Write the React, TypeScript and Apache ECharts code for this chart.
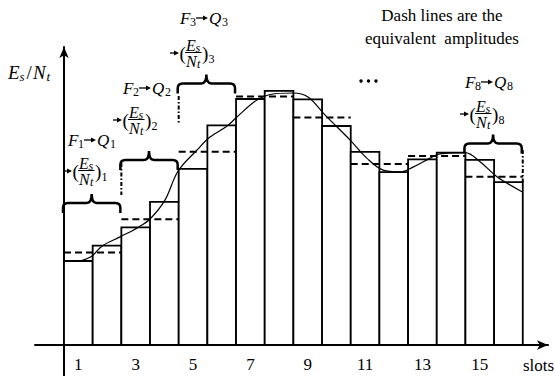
import React, { useEffect, useRef } from "react";
import * as echarts from "echarts";

// ---- data ----
const slots = [1, 2, 3, 4, 5, 6, 7, 8, 9, 10, 11, 12, 13, 14, 15, 16];
const slotAmplitude = [2.80, 3.31, 3.92, 4.77, 5.87, 7.32, 8.20, 8.47, 8.19, 7.30, 6.44, 5.76, 6.19, 6.41, 6.17, 5.43];
// equivalent amplitude of each pair of slots (dash lines)
const pairEquivalent = [3.08, 4.19, 6.44, 8.28, 7.58, 6.03, 6.30, 5.61];
// continuous channel curve (x in slot units from left edge of slot 1)
const curveX = [0.56, 0.98, 1.33, 1.99, 2.58, 3.0, 3.52, 3.98, 4.64, 5.09, 5.69, 6.03, 6.73, 7.19, 7.99, 8.51, 9.10, 9.98, 10.56, 11.13, 11.72, 12.17, 12.77, 13.11, 13.99, 14.51, 15.10, 15.97];
const curveY = [2.80, 2.97, 3.30, 3.62, 3.92, 4.20, 4.83, 5.80, 6.50, 6.93, 7.30, 7.60, 8.17, 8.35, 8.40, 8.27, 7.67, 6.83, 6.23, 5.83, 5.77, 5.93, 6.23, 6.37, 6.41, 6.11, 5.61, 5.11];
const xTickLabels = ["1", "3", "5", "7", "9", "11", "13", "15"];
// braces: start edge, end edge, level
const braceStart = [0, 2, 4, 14];
const braceEnd = [2, 4, 6, 16];
const braceLevel = [4.73, 6.17, 8.72, 6.72];
// dash-dot connectors: edge, top, bottom
const connectorEdge = [2, 4, 16];
const connectorTop = [6.07, 8.3, 6.5];
const connectorBottom = [5.0, 7.4, 5.4];

const SERIF = "Liberation Serif";

function txt(x: number, y: number, s: string, size: number, italic = false, align = "left") {
  return {
    type: "text",
    x,
    y,
    silent: true,
    style: {
      text: s,
      fontFamily: SERIF,
      fontSize: size,
      fontStyle: italic ? "italic" : "normal",
      fill: "#000",
      align,
      verticalAlign: "middle",
      textAlign: align,
      textVerticalAlign: "middle",
    },
  };
}

function arrow(x: number, y: number, len: number) {
  return [
    { type: "line", silent: true, shape: { x1: x, y1: y, x2: x + len - 4, y2: y }, style: { stroke: "#000", lineWidth: 1.3 } },
    {
      type: "polygon",
      silent: true,
      shape: { points: [[x + len - 5, y - 2.6], [x + len, y], [x + len - 5, y + 2.6]] },
      style: { fill: "#000" },
    },
  ];
}

function fqLabel(x: number, cy: number, n: string) {
  return [
    txt(x, cy, "F", 17, true),
    txt(x + 10, cy + 4, n, 12),
    ...arrow(x + 16, cy, 12),
    txt(x + 29, cy, "Q", 17, true),
    txt(x + 42, cy + 4, n, 12),
  ];
}

function fracLabel(x: number, cy: number, n: string) {
  return [
    ...arrow(x, cy, 9),
    txt(x + 9.5, cy, "(", 19),
    txt(x + 16, cy - 8, "E", 16, true),
    txt(x + 25.5, cy - 5, "s", 12, true),
    { type: "line", silent: true, shape: { x1: x + 15, y1: cy - 0.5, x2: x + 31.5, y2: cy - 0.5 }, style: { stroke: "#000", lineWidth: 1 } },
    txt(x + 16, cy + 8.5, "N", 16, true),
    txt(x + 27, cy + 11, "t", 12, true),
    txt(x + 32, cy, ")", 19),
    txt(x + 38.5, cy + 6, n, 12),
  ];
}

export default function App() {
  const ref = useRef<HTMLDivElement>(null);

  useEffect(() => {
    if (!ref.current) return;
    const chart = echarts.init(ref.current, undefined, { renderer: "svg" });

    const barData = slots.map((s, i) => [s, slotAmplitude[i]]);
    const pairData = pairEquivalent.map((v, k) => [2 * k, 2 * k + 2, v]);
    const curveData = curveX.map((x, i) => [x, curveY[i]]);
    const braceData = braceStart.map((s, i) => [s, braceEnd[i], braceLevel[i]]);
    const connData = connectorEdge.map((e, i) => [e, connectorTop[i], connectorBottom[i]]);
    const tickValues = xTickLabels.map((l) => Number(l) - 0.5);

    const graphics: any[] = [
      // y-axis title
      txt(8, 72, "E", 19, true),
      txt(19.5, 76, "s", 13, true),
      txt(26.5, 72, "/", 19),
      txt(33, 72, "N", 19, true),
      txt(46.5, 76, "t", 13, true),
      // legend note
      txt(442, 15, "Dash lines are the", 17, false, "center"),
      txt(442, 38, "equivalent  amplitudes", 17, false, "center"),
      // annotations
      ...fqLabel(68, 140, "1"),
      ...fracLabel(63, 171, "1"),
      ...fqLabel(123, 88, "2"),
      ...fracLabel(113, 120, "2"),
      ...fqLabel(180, 18, "3"),
      ...fracLabel(170, 53, "3"),
      ...fqLabel(465, 82, "8"),
      ...fracLabel(460, 114, "8"),
      // ellipsis dots
      { type: "circle", silent: true, shape: { cx: 361, cy: 81, r: 1.7 }, style: { fill: "#000" } },
      { type: "circle", silent: true, shape: { cx: 368.5, cy: 81, r: 1.7 }, style: { fill: "#000" } },
      { type: "circle", silent: true, shape: { cx: 376, cy: 81, r: 1.7 }, style: { fill: "#000" } },
    ];

    chart.setOption({
      animation: false,
      backgroundColor: "#fff",
      grid: { left: 35, right: 7, top: 47, bottom: 31, outerBoundsMode: "none", containLabel: false },
      xAxis: {
        type: "value",
        min: -1.0115,
        max: 16.88,
        name: "slots",
        nameLocation: "end",
        nameGap: -25,
        nameTextStyle: {
          fontFamily: SERIF,
          fontSize: 17,
          color: "#000",
          align: "left",
          verticalAlign: "top",
          padding: [12, 0, 0, 0],
        },
        axisLine: {
          onZero: false,
          symbol: ["none", "arrow"],
          symbolSize: [7, 11],
          lineStyle: { color: "#000", width: 2 },
        },
        axisTick: { show: false },
        splitLine: { show: false },
        axisLabel: {
          customValues: tickValues,
          formatter: (v: number) => String(Math.round(v + 0.5)),
          color: "#000",
          fontFamily: SERIF,
          fontSize: 17,
          margin: 11,
        },
      },
      yAxis: {
        type: "value",
        min: 0,
        max: 9.933,
        axisLine: {
          onZero: true,
          symbol: ["none", "arrow"],
          symbolSize: [7, 11],
          lineStyle: { color: "#000", width: 2 },
        },
        axisTick: { show: false },
        axisLabel: { show: false },
        splitLine: { show: false },
      },
      graphic: graphics,
      series: [
        {
          // y axis continues below the slot axis
          type: "custom",
          name: "axisExtension",
          z: 0,
          clip: false,
          encode: { x: 0, y: 1 },
          data: [[0, 0]],
          renderItem: (params: any, api: any) => {
            const p = api.coord([api.value(0), api.value(1)]);
            return {
              type: "line",
              shape: { x1: p[0], y1: p[1], x2: p[0], y2: api.getHeight() },
              style: { stroke: "#000", lineWidth: 2 },
            };
          },
        },
        {
          type: "custom",
          name: "slots",
          z: 1,
          clip: false,
          encode: { x: 0, y: 1 },
          data: barData,
          renderItem: (params: any, api: any) => {
            const s = api.value(0);
            const v = api.value(1);
            const p0 = api.coord([s - 1, v]);
            const p1 = api.coord([s, 0]);
            return {
              type: "rect",
              shape: { x: p0[0], y: p0[1], width: p1[0] - p0[0], height: p1[1] - p0[1] },
              style: { fill: "#fff", stroke: "#000", lineWidth: 1.8 },
            };
          },
        },
        {
          type: "custom",
          name: "equivalent",
          z: 2,
          clip: false,
          encode: { x: [0, 1], y: 2 },
          data: pairData,
          renderItem: (params: any, api: any) => {
            const a = api.coord([api.value(0), api.value(2)]);
            const b = api.coord([api.value(1), api.value(2)]);
            return {
              type: "line",
              shape: { x1: a[0], y1: a[1], x2: b[0], y2: b[1] },
              style: { stroke: "#000", lineWidth: 2, lineDash: [7, 4] },
            };
          },
        },
        {
          type: "line",
          name: "curve",
          z: 3,
          data: curveData,
          smooth: 0.35,
          showSymbol: false,
          symbol: "none",
          lineStyle: { color: "#000", width: 1.2 },
        },
        {
          type: "custom",
          name: "connectors",
          z: 4,
          clip: false,
          encode: { x: 0, y: [1, 2] },
          data: connData,
          renderItem: (params: any, api: any) => {
            const a = api.coord([api.value(0), api.value(1)]);
            const b = api.coord([api.value(0), api.value(2)]);
            return {
              type: "line",
              shape: { x1: a[0], y1: a[1], x2: b[0], y2: b[1] },
              style: { stroke: "#000", lineWidth: 2, lineDash: [4, 2, 1.5, 2] },
            };
          },
        },
        {
          type: "custom",
          name: "braces",
          z: 5,
          clip: false,
          encode: { x: [0, 1], y: 2 },
          data: braceData,
          renderItem: (params: any, api: any) => {
            const a = api.coord([api.value(0), api.value(2)]);
            const b = api.coord([api.value(1), api.value(2)]);
            const x0 = a[0] - 1;
            const x1 = b[0] - 1;
            const y = a[1];
            const xm = (x0 + x1) / 2;
            const r = 5;
            const drop = 10;
            const peak = 9;
            const d =
              `M ${x0} ${y + drop} L ${x0} ${y + r} Q ${x0} ${y} ${x0 + r} ${y} ` +
              `L ${xm - r} ${y} Q ${xm} ${y} ${xm} ${y - peak} Q ${xm} ${y} ${xm + r} ${y} ` +
              `L ${x1 - r} ${y} Q ${x1} ${y} ${x1} ${y + r} L ${x1} ${y + drop}`;
            return {
              type: "path",
              shape: { pathData: d },
              style: { fill: "none", stroke: "#000", lineWidth: 2.5 },
            };
          },
        },
      ],
    });

    return () => chart.dispose();
  }, []);

  return <div ref={ref} style={{ position: "fixed", left: 0, top: 0, width: 555, height: 376 }} />;
}
